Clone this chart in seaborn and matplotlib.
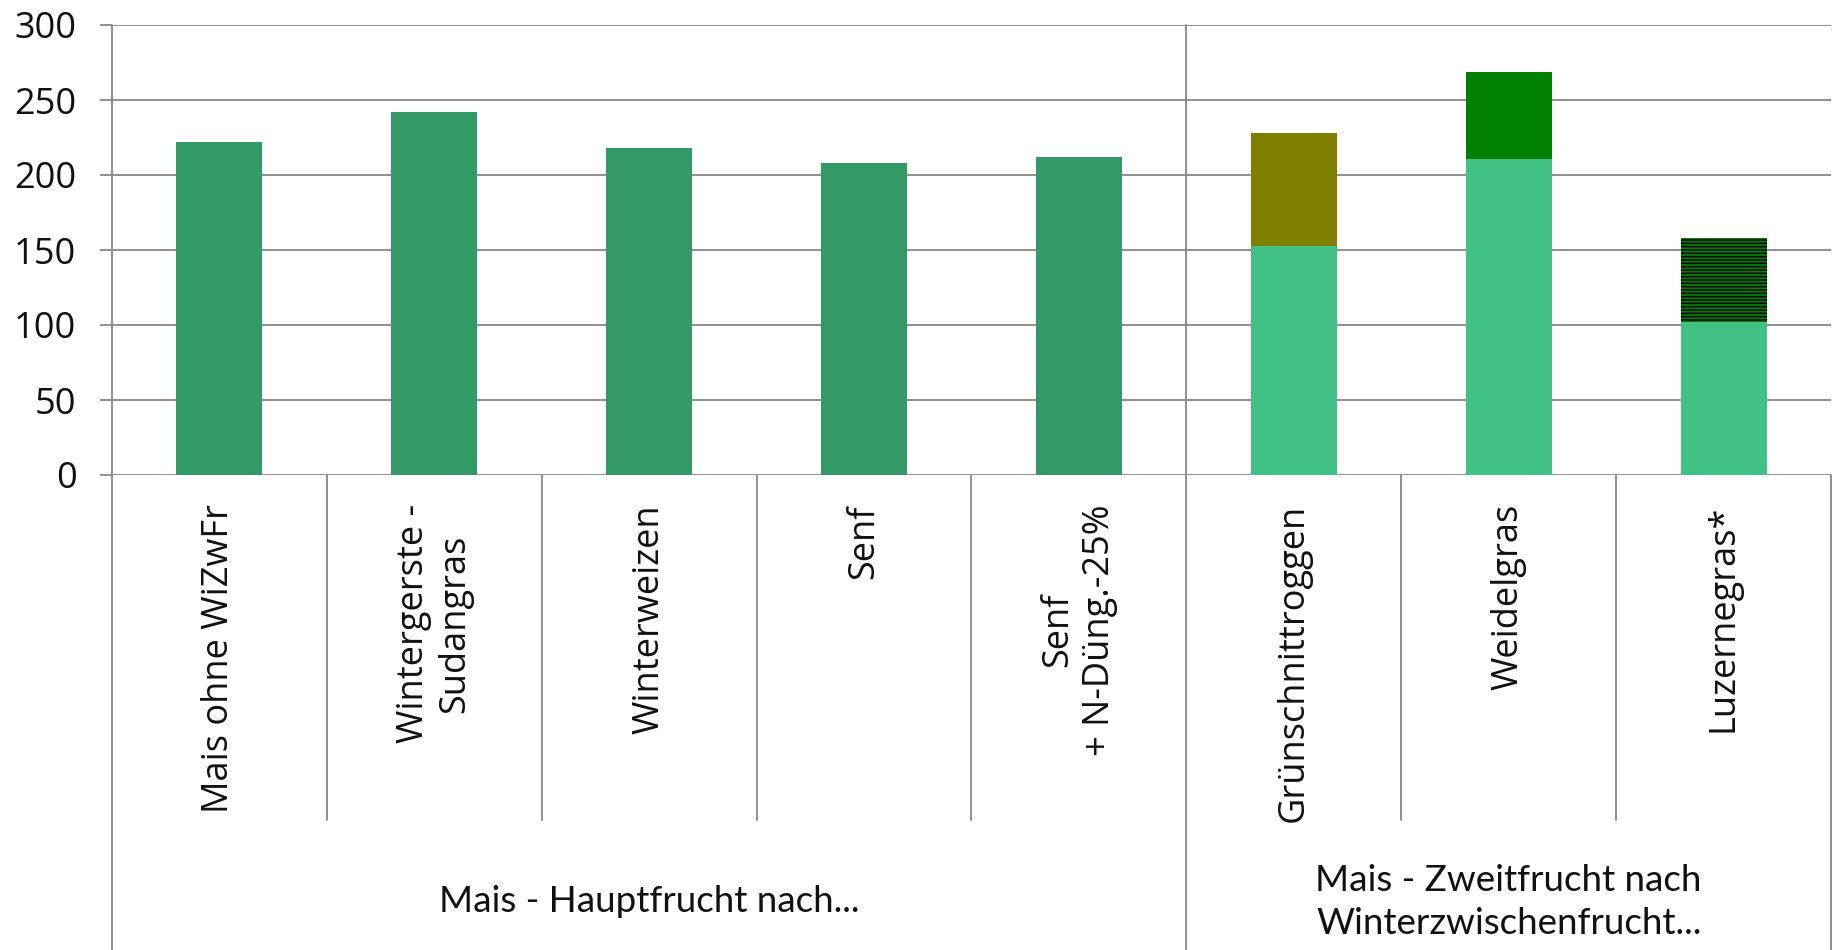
import numpy as np
import pandas as pd
import seaborn as sns
import matplotlib.pyplot as plt

# Kategorien und Gruppen der x-Achse
categories = ["Mais ohne WiZwFr", "Wintergerste -\nSudangras", "Winterweizen", "Senf",
              "Senf\n+ N-Düng.-25%", "Grünschnittroggen", "Weidelgras", "Luzernegras*"]
groups = ["Mais - Hauptfrucht nach...", "Mais - Zweitfrucht nach\nWinterzwischenfrucht..."]
group_sizes = [5, 3]

# Erträge: Mais und vorangehende Winterzwischenfrucht
mais_ertrag = [222, 242, 218, 208, 212, 153, 211, 102]
zwischenfrucht_ertrag = [0, 0, 0, 0, 0, 75, 58, 56]
y_ticks = [0, 50, 100, 150, 200, 250, 300]

base_colors = ["#339966"] * 5 + ["#41C184"] * 3
top_colors = ["#339966"] * 5 + ["#808000", "#008000", "#000000"]

df = pd.DataFrame({
    "kategorie": categories,
    "mais": mais_ertrag,
    "gesamt": np.array(mais_ertrag) + np.array(zwischenfrucht_ertrag),
})

sns.set_style("white")
plt.rcParams["font.family"] = ["Open Sans", "DejaVu Sans"]
plt.rcParams["hatch.linewidth"] = 1.3

W, H = 1849, 950
fig = plt.figure(figsize=(W / 100, H / 100), dpi=100)
ax = fig.add_axes([112 / W, 0.5, (1831 - 112) / W, 1 - 25 / H - 0.5])

# gestapelte Balken: Gesamt hinten, Mais-Anteil davor
sns.barplot(data=df, x="kategorie", y="gesamt", hue="kategorie", order=categories,
            hue_order=categories, palette=top_colors, legend=False, width=0.4,
            saturation=1, linewidth=0, ax=ax)
sns.barplot(data=df, x="kategorie", y="mais", hue="kategorie", order=categories,
            hue_order=categories, palette=base_colors, legend=False, width=0.4,
            saturation=1, linewidth=0, ax=ax)

# Luzernegras: schraffierter Zwischenfruchtanteil
luz = ax.patches[7]
luz.set_facecolor("#000000")
luz.set_edgecolor("#008000")
luz.set_linewidth(0)
luz.set_hatch("-----")

ax.set_xlim(-0.5, len(categories) - 0.5)
ax.set_ylim(0, 300)
ax.set_yticks(y_ticks)
ax.grid(axis="y", color="#878787", linewidth=1.3)
ax.grid(axis="x", visible=False)
ax.set_axisbelow(True)
for s in ax.spines.values():
    s.set_visible(False)

ax.set_xlabel("")
ax.set_ylabel("")
ax.tick_params(axis="y", length=8.6, width=1.3, color="#878787", pad=17, labelsize=26,
               left=True, labelcolor="#111111")
ax.tick_params(axis="x", length=0, pad=21, labelcolor="#111111")
ax.set_xticks(range(len(categories)))
ax.set_xticklabels(categories, rotation=90, va="top", ha="center",
                   multialignment="center", fontsize=26)

# Trennlinien unterhalb der Achse
trans = ax.get_xaxis_transform()
ax_h = 1 - 25 / H - 0.5
y_bottom = (0.0 - 0.5) / ax_h
y_cat = ((1 - 820 / H) - 0.5) / ax_h
line_kw = dict(color="#878787", linewidth=1.3, transform=trans, clip_on=False)

edges = np.cumsum([0] + group_sizes) - 0.5
for i, e in enumerate(edges):
    top = 0 if i == len(edges) - 1 else 1
    ax.plot([e, e], [top, y_bottom], **line_kw)
for k in range(len(categories) - 1):
    x = k + 0.5
    if x in edges:
        continue
    ax.plot([x, x], [0, y_cat], **line_kw)

# Gruppenbeschriftungen
y_grp = ((1 - 902 / H) - 0.5) / ax_h
for g, lo, hi in zip(groups, edges[:-1], edges[1:]):
    ax.text((lo + hi) / 2, y_grp, g, transform=trans, ha="center", va="center",
            multialignment="center", fontsize=26.5, family=["Lato", "DejaVu Sans"],
            linespacing=1.38, color="#111111")

fig.savefig("out.png", dpi=100)
